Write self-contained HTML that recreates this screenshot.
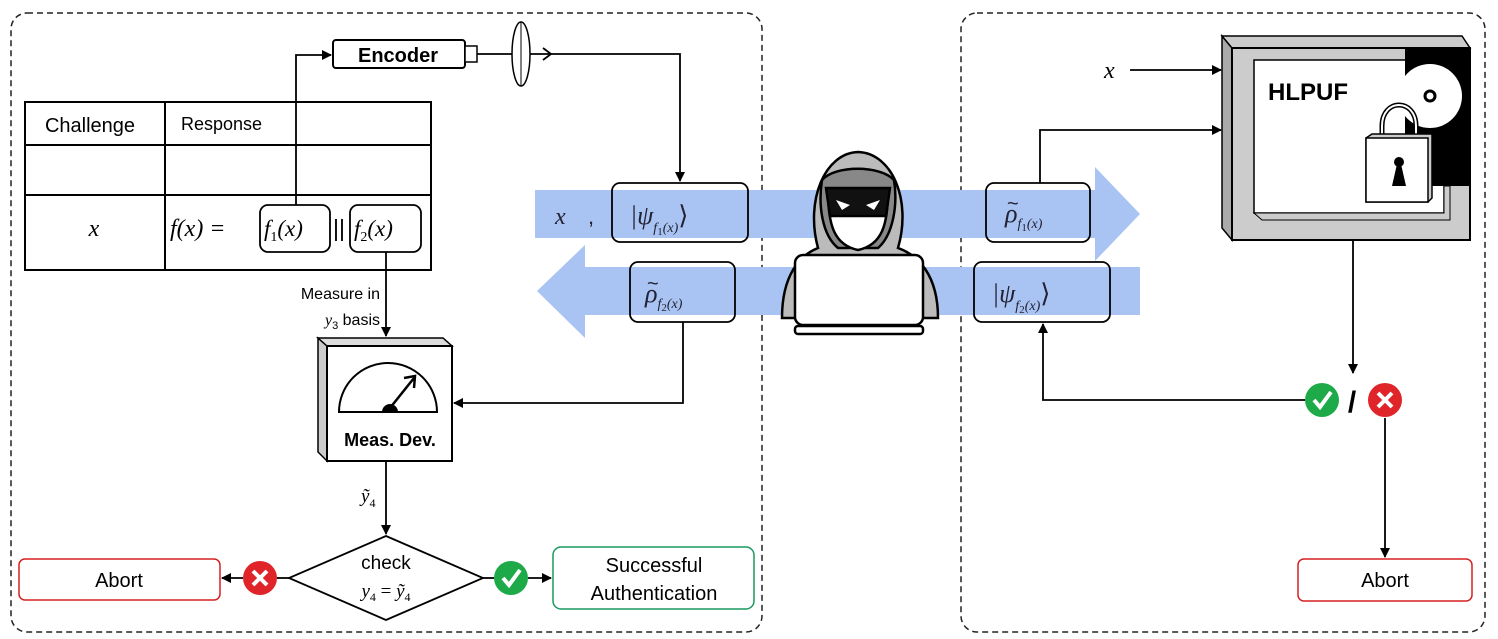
<!DOCTYPE html>
<html><head><meta charset="utf-8"><style>
html,body{margin:0;padding:0;background:#fff}
svg{display:block}
text{font-family:"Liberation Sans",sans-serif}
.m{font-family:"Liberation Serif",serif;font-style:italic}
</style></head><body>
<svg width="1498" height="639" viewBox="0 0 1498 639" xmlns="http://www.w3.org/2000/svg">
<defs>
<marker id="a" markerWidth="10" markerHeight="10" refX="9" refY="5" orient="auto" markerUnits="userSpaceOnUse"><path d="M0,0 L10,5 L0,10 z" fill="#000"/></marker>
</defs>
<rect x="11" y="13" width="751" height="619" rx="16" fill="none" stroke="#222" stroke-width="1.5" stroke-dasharray="6,4"/>
<rect x="961" y="13" width="524" height="619" rx="16" fill="none" stroke="#222" stroke-width="1.5" stroke-dasharray="6,4"/>
<path d="M535,190 H1095 V167 L1140,214 L1095,261 V238 H535 z" fill="#a9c3f2"/>
<path d="M1140,267 H585 V245 L537,291 L585,338 V315 H1140 z" fill="#a9c3f2"/>
<g stroke="#000" stroke-width="2" fill="none">
<rect x="25" y="102" width="406" height="168"/>
<line x1="165" y1="102" x2="165" y2="270"/>
<line x1="25" y1="145" x2="431" y2="145"/>
<line x1="25" y1="195" x2="431" y2="195"/>
</g>
<text x="90" y="132" font-size="20" text-anchor="middle">Challenge</text>
<text x="181" y="130" font-size="18">Response</text>
<text x="94" y="236" font-size="24" class="m" text-anchor="middle">x</text>
<text x="170" y="236" font-size="24" class="m">f(x) =</text>
<rect x="260" y="205" width="70" height="47" rx="8" fill="#fff" stroke="#000" stroke-width="1.8"/>
<rect x="350" y="205" width="71" height="47" rx="8" fill="#fff" stroke="#000" stroke-width="1.8"/>
<text x="264" y="236" font-size="23" class="m">f<tspan font-size="14" font-style="normal" dy="5">1</tspan><tspan dy="-5">(x)</tspan></text>
<text x="333" y="236" font-size="23" font-family="Liberation Serif">||</text>
<text x="354" y="236" font-size="23" class="m">f<tspan font-size="14" font-style="normal" dy="5">2</tspan><tspan dy="-5">(x)</tspan></text>
<g stroke="#000" stroke-width="1.8" fill="none">
<polyline points="296,205 296,55 331,55" marker-end="url(#a)"/>
<polyline points="477,54 680,54 680,181" marker-end="url(#a)"/>
<polyline points="543,48 551,54 543,60"/>
</g>
<rect x="333" y="40" width="132" height="28" rx="3" fill="#fff" stroke="#000" stroke-width="2"/>
<rect x="465" y="46" width="12" height="16" fill="#fff" stroke="#000" stroke-width="1.5"/>
<text x="398" y="62" font-size="20" font-weight="bold" text-anchor="middle">Encoder</text>
<ellipse cx="521" cy="54" rx="9" ry="32" fill="#fff" stroke="#000" stroke-width="1.5"/>
<line x1="521" y1="22" x2="521" y2="86" stroke="#000" stroke-width="1"/>
<text x="555" y="224" font-size="24" class="m" fill="#223">x</text>
<text x="588" y="224" font-size="22" fill="#223">,</text>
<rect x="612" y="183" width="136" height="59" rx="8" fill="none" stroke="#000" stroke-width="1.8"/>
<text x="630" y="224" font-size="26" class="m" fill="#223">|ψ<tspan font-size="14" dy="8">f</tspan><tspan font-size="11" font-style="normal" dy="3">1</tspan><tspan font-size="14" dy="-3">(x)</tspan><tspan font-size="26" font-style="normal" dy="-8">⟩</tspan></text>
<rect x="630" y="262" width="105" height="60" rx="8" fill="none" stroke="#000" stroke-width="1.8"/>
<text x="645" y="302" font-size="26" class="m" fill="#223">ρ<tspan font-size="14" dy="6">f</tspan><tspan font-size="11" font-style="normal" dy="3">2</tspan><tspan font-size="14" dy="-3">(x)</tspan></text>
<text x="647" y="290" font-size="20" font-family="Liberation Serif" fill="#223">~</text>
<g stroke="#000" stroke-width="1.8" fill="none">
<polyline points="683,322 683,403 454,403" marker-end="url(#a)"/>
<polyline points="386,252 386,336" marker-end="url(#a)"/>
<polyline points="386,461 386,534" marker-end="url(#a)"/>
<line x1="289" y1="578" x2="277" y2="578"/>
<line x1="243" y1="578" x2="222" y2="578" marker-end="url(#a)"/>
<line x1="483" y1="578" x2="494" y2="578"/>
<line x1="528" y1="578" x2="551" y2="578" marker-end="url(#a)"/>
</g>
<text x="380" y="299" font-size="16" text-anchor="end">Measure in</text>
<text x="380" y="325" font-size="16" text-anchor="end"><tspan class="m">y</tspan><tspan font-size="11" dy="4">3</tspan><tspan dy="-4"> basis</tspan></text>
<path d="M318,338 L327,346 V461 L318,452 z" fill="#ccc" stroke="#000" stroke-width="1.5"/>
<path d="M318,338 H443 L452,346 H327 z" fill="#ddd" stroke="#000" stroke-width="1.5"/>
<rect x="327" y="346" width="125" height="115" fill="#fff" stroke="#000" stroke-width="2"/>
<path d="M339,412 A49,49 0 0 1 437,412 z" fill="#fff" stroke="#000" stroke-width="2"/>
<line x1="390" y1="408" x2="414" y2="378" stroke="#000" stroke-width="2.5"/>
<polyline points="404,378 415,376 414,388" fill="none" stroke="#000" stroke-width="2.5"/>
<path d="M382,412 A8,8 0 0 1 398,412 z" fill="#000"/>
<text x="390" y="446" font-size="18" font-weight="bold" text-anchor="middle">Meas. Dev.</text>
<text x="361" y="502" font-size="19" class="m">ỹ<tspan font-size="12" font-style="normal" dy="5">4</tspan></text>
<polygon points="386,536 483,578 386,620 289,578" fill="#fff" stroke="#000" stroke-width="1.8"/>
<text x="386" y="569" font-size="19" text-anchor="middle">check</text>
<text x="386" y="597" font-size="19" class="m" text-anchor="middle">y<tspan font-size="12" font-style="normal" dy="4">4</tspan><tspan dy="-4" font-style="normal"> = </tspan>ỹ<tspan font-size="12" font-style="normal" dy="4">4</tspan></text>
<circle cx="260" cy="578" r="17" fill="#e0252a"/>
<path d="M253,571 L267,585 M267,571 L253,585" stroke="#fff" stroke-width="4"/>
<circle cx="511" cy="578" r="17" fill="#1faa4a"/>
<path d="M503,578 L509,585 L520,570" stroke="#fff" stroke-width="4" fill="none"/>
<rect x="19" y="559" width="201" height="41" rx="6" fill="#fff" stroke="#d62020" stroke-width="1.5"/>
<text x="119" y="587" font-size="20" text-anchor="middle">Abort</text>
<rect x="553" y="547" width="201" height="62" rx="8" fill="#fff" stroke="#1a9a60" stroke-width="1.5"/>
<text x="654" y="572" font-size="20" text-anchor="middle">Successful</text>
<text x="654" y="600" font-size="20" text-anchor="middle">Authentication</text>
<g stroke="#000" stroke-width="2.5">
<path d="M782,318 C782,275 800,255 818,248 C805,200 825,153 858,152 C892,153 912,200 898,248 C918,255 938,275 938,318 z" fill="#bbb"/>
<path d="M822,180 C835,165 880,165 894,180 C898,205 893,235 878,248 L838,248 C822,235 818,205 822,180 z" fill="#888"/>
<path d="M828,190 H888 C888,225 882,245 858,250 C834,245 828,225 828,190 z" fill="#fff"/>
<path d="M826,188 H890 L886,216 H830 z" fill="#111"/>
<rect x="795" y="255" width="128" height="70" rx="8" fill="#fff"/>
<rect x="795" y="326" width="128" height="8" rx="3" fill="#fff"/>
</g>
<path d="M836,200 L850,205 L842,210 z M880,200 L866,205 L874,210 z" fill="#fff"/>
<rect x="986" y="183" width="104" height="59" rx="8" fill="none" stroke="#000" stroke-width="1.8"/>
<text x="1005" y="222" font-size="26" class="m" fill="#223">ρ<tspan font-size="14" dy="6">f</tspan><tspan font-size="11" font-style="normal" dy="3">1</tspan><tspan font-size="14" dy="-3">(x)</tspan></text>
<text x="1007" y="210" font-size="20" font-family="Liberation Serif" fill="#223">~</text>
<rect x="974" y="262" width="136" height="60" rx="8" fill="none" stroke="#000" stroke-width="1.8"/>
<text x="992" y="302" font-size="26" class="m" fill="#223">|ψ<tspan font-size="14" dy="8">f</tspan><tspan font-size="11" font-style="normal" dy="3">2</tspan><tspan font-size="14" dy="-3">(x)</tspan><tspan font-size="26" font-style="normal" dy="-8">⟩</tspan></text>
<text x="1104" y="78" font-size="24" class="m">x</text>
<g stroke="#000" stroke-width="1.8" fill="none">
<line x1="1130" y1="70" x2="1221" y2="70" marker-end="url(#a)"/>
<polyline points="1040,183 1040,130 1221,130" marker-end="url(#a)"/>
<polyline points="1353,240 1353,373" marker-end="url(#a)"/>
<polyline points="1305,400 1043,400 1043,324" marker-end="url(#a)"/>
<polyline points="1385,418 1385,557" marker-end="url(#a)"/>
</g>
<path d="M1222,36 L1232,48 V240 L1222,228 z" fill="#aaa" stroke="#000" stroke-width="1.5"/>
<path d="M1222,36 H1462 L1470,48 H1232 z" fill="#ccc" stroke="#000" stroke-width="1.5"/>
<rect x="1232" y="48" width="238" height="192" fill="#ccc" stroke="#000" stroke-width="2"/>
<rect x="1254" y="60" width="190" height="153" fill="#fff" stroke="#000" stroke-width="1.5"/>
<path d="M1254,213 L1262,220 H1450 V186 L1444,186 V213 z" fill="#ccc" stroke="#000" stroke-width="1"/>
<rect x="1405" y="48" width="65" height="138" fill="#000"/>
<circle cx="1430" cy="96" r="32" fill="#fff"/>
<circle cx="1430" cy="96" r="5" fill="#fff" stroke="#000" stroke-width="3"/>
<text x="1268" y="100" font-size="24" font-weight="bold">HLPUF</text>
<path d="M1382,140 V126 C1382,98 1416,98 1416,126 V140" fill="none" stroke="#000" stroke-width="5"/>
<path d="M1382,140 V126 C1382,98 1416,98 1416,126 V140" fill="none" stroke="#fff" stroke-width="2"/>
<path d="M1366,138 L1372,134 H1432 V198 L1428,202 H1366 z" fill="#ccc" stroke="#000" stroke-width="1.5"/>
<rect x="1366" y="138" width="62" height="64" fill="#fff" stroke="#000" stroke-width="1.5"/>
<circle cx="1399" cy="162" r="5" fill="#000"/>
<path d="M1397,164 L1392,186 H1406 L1401,164 z" fill="#000"/>
<circle cx="1322" cy="400" r="17" fill="#1faa4a"/>
<path d="M1314,400 L1320,407 L1331,392" stroke="#fff" stroke-width="4" fill="none"/>
<text x="1352" y="412" font-size="30" font-weight="bold" text-anchor="middle">/</text>
<circle cx="1385" cy="400" r="17" fill="#e0252a"/>
<path d="M1378,393 L1392,407 M1392,393 L1378,407" stroke="#fff" stroke-width="4"/>
<rect x="1298" y="559" width="174" height="42" rx="6" fill="#fff" stroke="#d62020" stroke-width="1.5"/>
<text x="1385" y="587" font-size="20" text-anchor="middle">Abort</text>
</svg>
</body></html>
